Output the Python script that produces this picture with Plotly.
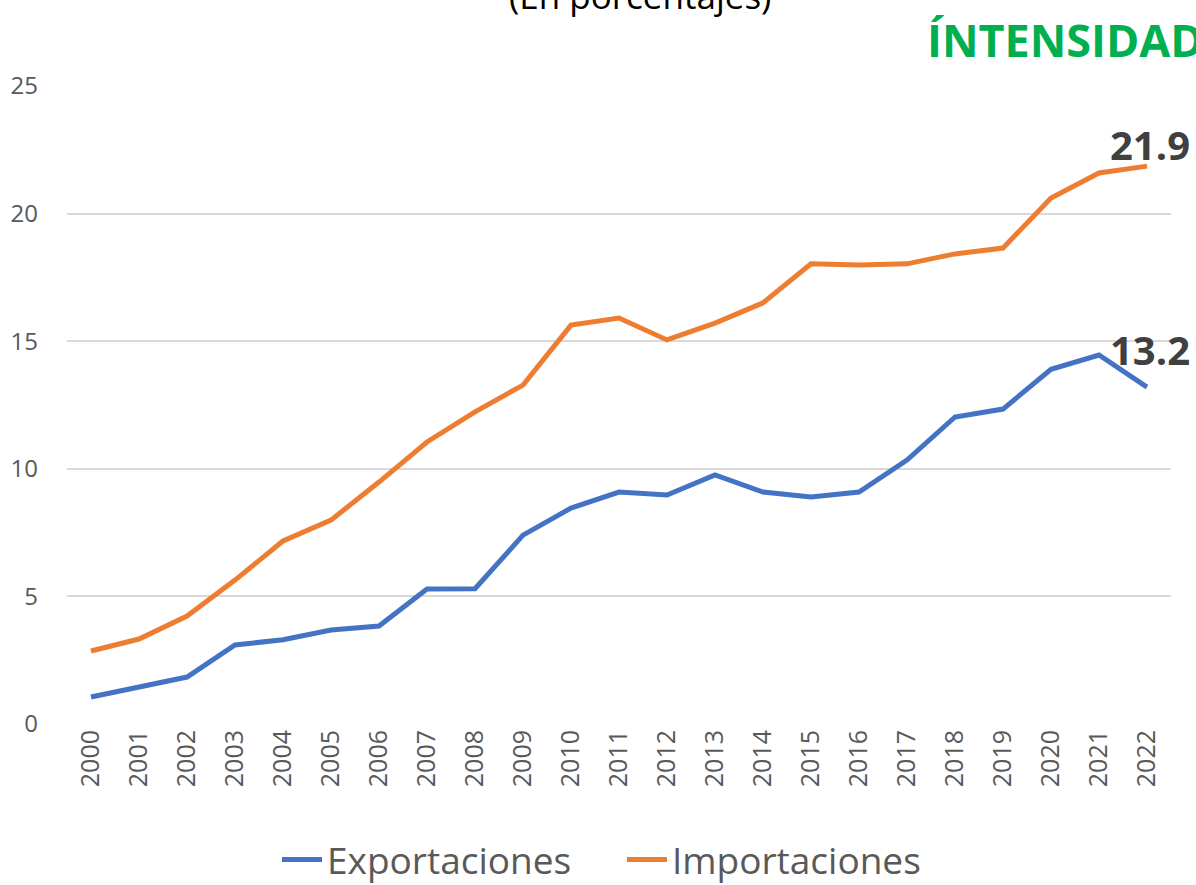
import plotly.graph_objects as go

years = list(range(2000, 2023))
exportaciones = [1.06, 1.45, 1.84, 3.10, 3.30, 3.68, 3.84, 5.29, 5.30, 7.40, 8.46, 9.09, 8.97, 9.76,
                 9.09, 8.90, 9.09, 10.34, 12.03, 12.34, 13.90, 14.46, 13.2]
importaciones = [2.86, 3.33, 4.23, 5.64, 7.17, 7.99, 9.48, 11.05, 12.23, 13.28, 15.63, 15.91, 15.05,
                 15.71, 16.50, 18.03, 17.99, 18.03, 18.42, 18.65, 20.61, 21.59, 21.86]
series_names = ["Exportaciones", "Importaciones"]
series_colors = ["#4472C4", "#ED7D31"]
end_labels = ["13.2", "21.9"]
title_text = "(En porcentajes)"
tag_text = "ÍNTENSIDAD"

FONT = "Open Sans"
W, H = 1196, 885
ML, MR, MT, MB = 67, 1196 - 1171, 86, 885 - 724

fig = go.Figure()
for name, vals, col in zip(series_names, [exportaciones, importaciones], series_colors):
    fig.add_trace(go.Scatter(x=years, y=vals, mode="lines", name=name,
                             line=dict(color=col, width=5)))

# end-point labels
for vals, lab, ys in zip([exportaciones, importaciones], end_labels, [38, 22]):
    fig.add_annotation(x=years[-1], y=vals[-1], text=lab, showarrow=False,
                       xanchor="center", yanchor="middle", xshift=3, yshift=ys,
                       font=dict(family=FONT, size=40, color="#404040", weight="bold"))

pw = W - ML - MR
ph = H - MT - MB
def px_to_paper_x(px):
    return (px - ML) / pw
def px_to_paper_y(py):
    return (H - MB - py) / ph

fig.add_annotation(xref="paper", yref="paper", x=px_to_paper_x(640), y=px_to_paper_y(-5),
                   text=title_text, showarrow=False, xanchor="center", yanchor="middle",
                   font=dict(family=FONT, size=35, color="#000000"))
fig.add_annotation(xref="paper", yref="paper", x=px_to_paper_x(925), y=px_to_paper_y(40),
                   text=tag_text, showarrow=False, xanchor="left", yanchor="middle",
                   font=dict(family=FONT, size=45, color="#00B050", weight="bold"))

fig.update_layout(
    width=W, height=H,
    margin=dict(l=ML, r=MR, t=MT, b=MB, autoexpand=False),
    paper_bgcolor="white", plot_bgcolor="white",
    font=dict(family=FONT, color="#595959"),
    showlegend=True,
    legend=dict(orientation="h", xref="paper", yref="paper",
                x=px_to_paper_x(622), xanchor="center",
                y=px_to_paper_y(860), yanchor="middle",
                font=dict(family=FONT, size=37, color="#595959"),
                itemwidth=40, entrywidth=290, entrywidthmode="pixels",
                bgcolor="rgba(0,0,0,0)"),
)
fig.update_xaxes(range=[1999.5, 2022.5], tickmode="array", tickvals=years,
                 ticktext=[str(y) for y in years], tickangle=-90,
                 tickfont=dict(family=FONT, size=25, color="#595959"),
                 showgrid=False, showline=False, zeroline=False, ticks="")
fig.update_yaxes(range=[0, 25], tickvals=[0, 5, 10, 15, 20, 25],
                 tickfont=dict(family=FONT, size=24, color="#595959"),
                 showgrid=True, gridcolor="#D9D9D9", gridwidth=1.5,
                 zeroline=False, showline=False, ticks="", ticklabelstandoff=28)

fig.write_html("out.html", config={"displayModeBar": False},
               post_script="document.body.style.margin='0';document.body.style.overflow='hidden';")
